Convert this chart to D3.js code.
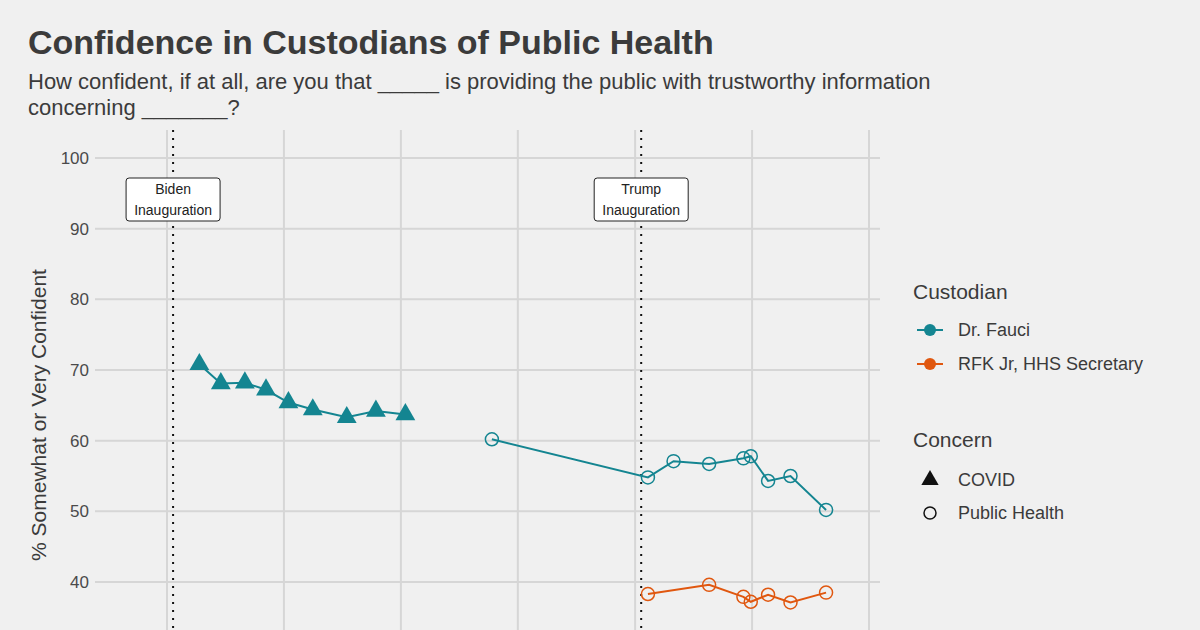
<!DOCTYPE html>
<html><head><meta charset="utf-8">
<script src="https://cdn.jsdelivr.net/npm/d3@7"></script>
<style>body{margin:0;background:#f0f0f0;}svg{display:block;font-family:"Liberation Sans",Arial,sans-serif;}</style>
</head><body><svg id="c" width="1200" height="630"></svg>
<script>
const fauciCovidDates = ["2021-04-12","2021-06-18","2021-09-01","2021-11-06","2022-01-15","2022-04-01","2022-07-16","2022-10-15","2023-01-15"];
const fauciCovidValues = [70.8,68.1,68.2,67.2,65.4,64.4,63.3,64.2,63.7];
const fauciPHDates = ["2023-10-12","2025-02-10","2025-05-01","2025-08-20","2025-12-05","2025-12-28","2026-02-20","2026-05-01","2026-08-20"];
const fauciPHValues = [60.2,54.8,57.1,56.7,57.5,57.8,54.3,55.0,50.2];
const rfkDates = ["2025-02-10","2025-08-20","2025-12-05","2025-12-28","2026-02-20","2026-05-01","2026-08-20"];
const rfkValues = [38.3,39.6,37.9,37.2,38.2,37.1,38.5];
const yTicks = [40,50,60,70,80,90,100];
const events = [{date:"2021-01-20",label:["Biden","Inauguration"]},{date:"2025-01-20",label:["Trump","Inauguration"]}];
const TEAL="#148591", ORANGE="#e0570f", TXT="#3b3b3b";

const svg=d3.select("#c");
const P=d3.timeParse("%Y-%m-%d");
const x=d3.scaleTime().domain([P("2021-01-01"),P("2027-01-01")]).range([167,869]);
const y=d3.scaleLinear().domain([40,100]).range([582,158]);
const L=95,R=880,T=130,B=630;
svg.append("rect").attr("width",1200).attr("height",630).attr("fill","#f0f0f0");
svg.append("g").selectAll("line").data(yTicks).join("line")
  .attr("x1",L).attr("x2",R).attr("y1",d=>y(d)).attr("y2",d=>y(d)).attr("stroke","#d6d6d6").attr("stroke-width",2);
svg.append("g").selectAll("line").data(x.ticks(d3.timeYear.every(1))).join("line")
  .attr("x1",d=>x(d)).attr("x2",d=>x(d)).attr("y1",T).attr("y2",B).attr("stroke","#d6d6d6").attr("stroke-width",2);
const ya=svg.append("g").attr("transform",`translate(${L-6},0)`).call(d3.axisLeft(y).tickValues(yTicks).tickSize(0).tickPadding(0));
ya.select(".domain").remove();
ya.selectAll("text").attr("font-size",17).attr("fill","#4a4a4a").attr("font-family","'Liberation Sans',Arial,sans-serif");
svg.append("text").attr("transform","translate(46,415) rotate(-90)").attr("text-anchor","middle")
  .attr("font-size",21).attr("fill",TXT).text("% Somewhat or Very Confident");
events.forEach(e=>{
  const ex=x(P(e.date));
  svg.append("line").attr("x1",ex).attr("x2",ex).attr("y1",T).attr("y2",B).attr("stroke","#111").attr("stroke-width",2).attr("stroke-dasharray","2,6");
  svg.append("rect").attr("x",ex-47).attr("y",178).attr("width",94).attr("height",43).attr("rx",3).attr("fill","#fff").attr("stroke","#222");
  e.label.forEach((t,i)=>svg.append("text").attr("x",ex).attr("y",194+i*21).attr("text-anchor","middle").attr("font-size",14).attr("fill","#222").text(t));
});
function series(dates,vals,color,shape){
  const data=dates.map((d,i)=>({x:x(P(d)),y:y(vals[i])}));
  svg.append("path").datum(data).attr("d",d3.line().x(d=>d.x).y(d=>d.y)).attr("fill","none").attr("stroke",color).attr("stroke-width",2);
  if(shape==="tri"){
    svg.append("g").selectAll("path").data(data).join("path").attr("transform",d=>`translate(${d.x},${d.y})`)
      .attr("d",d3.symbol(d3.symbolTriangle,170)).attr("fill",color);
  } else {
    svg.append("g").selectAll("circle").data(data).join("circle").attr("cx",d=>d.x).attr("cy",d=>d.y).attr("r",6.5)
      .attr("fill","none").attr("stroke",color).attr("stroke-width",1.5);
  }
}
series(fauciCovidDates,fauciCovidValues,TEAL,"tri");
series(fauciPHDates,fauciPHValues,TEAL,"circ");
series(rfkDates,rfkValues,ORANGE,"circ");
svg.append("text").attr("x",28).attr("y",54).attr("font-size",34).attr("font-weight",700).attr("fill",TXT).text("Confidence in Custodians of Public Health");
svg.append("text").attr("x",28).attr("y",89).attr("font-size",22).attr("fill",TXT).text("How confident, if at all, are you that _____ is providing the public with trustworthy information");
svg.append("text").attr("x",28).attr("y",115).attr("font-size",22).attr("fill",TXT).text("concerning _______?");
const lg=svg.append("g").attr("fill",TXT);
lg.append("text").attr("x",913).attr("y",299).attr("font-size",21).text("Custodian");
[["Dr. Fauci",TEAL,330],["RFK Jr, HHS Secretary",ORANGE,364]].forEach(([t,c,yy])=>{
  lg.append("line").attr("x1",917).attr("x2",943).attr("y1",yy).attr("y2",yy).attr("stroke",c).attr("stroke-width",2);
  lg.append("circle").attr("cx",930).attr("cy",yy).attr("r",6).attr("fill",c);
  lg.append("text").attr("x",958).attr("y",yy+6).attr("font-size",18).text(t);
});
lg.append("text").attr("x",913).attr("y",447).attr("font-size",21).text("Concern");
lg.append("path").attr("transform","translate(930,480)").attr("d",d3.symbol(d3.symbolTriangle,130)).attr("fill","#111");
lg.append("text").attr("x",958).attr("y",486).attr("font-size",18).text("COVID");
lg.append("circle").attr("cx",930).attr("cy",513).attr("r",6).attr("fill","none").attr("stroke","#111").attr("stroke-width",1.5);
lg.append("text").attr("x",958).attr("y",519).attr("font-size",18).text("Public Health");
</script></body></html>
